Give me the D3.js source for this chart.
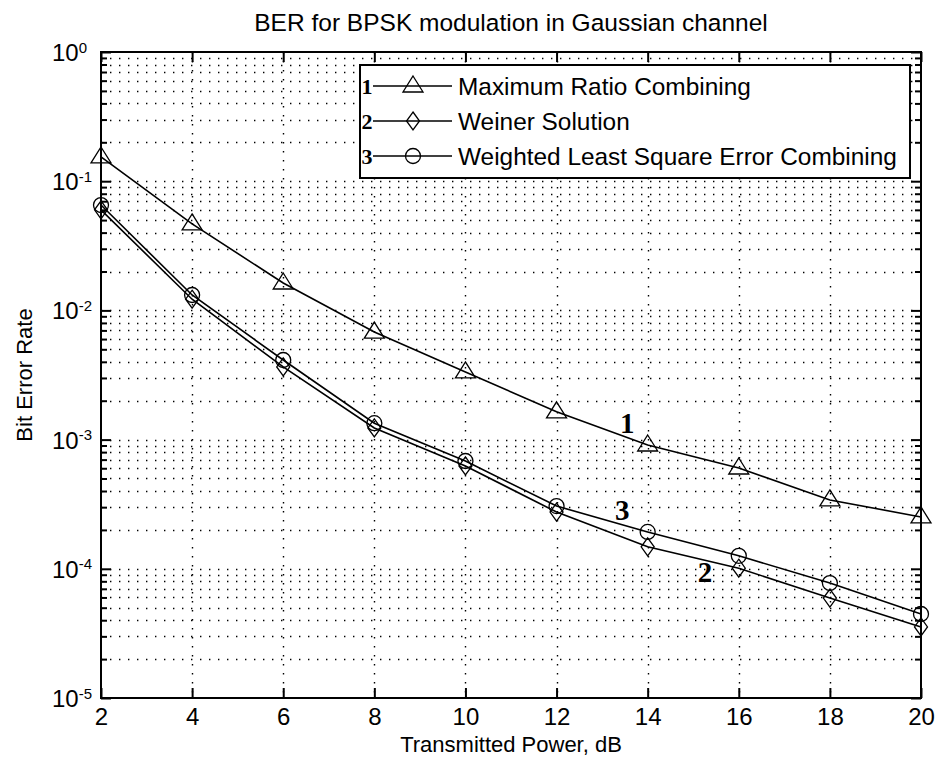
<!DOCTYPE html>
<html>
<head>
<meta charset="utf-8">
<script src="https://cdn.jsdelivr.net/npm/d3@7"></script>
<style>
  body { margin: 0; background: #fff; }
  text { font-family: "Liberation Sans", Arial, sans-serif; fill: #000; }
  .num { font-family: "Liberation Serif", "Times New Roman", serif; font-weight: bold; }
</style>
</head>
<body>
<svg id="chart" width="936" height="767"></svg>
<script>
// Data
var powerDb = [2, 4, 6, 8, 10, 12, 14, 16, 18, 20];
var berMRC = [0.154, 0.0467, 0.0163, 0.0068, 0.00334, 0.00164, 0.000908, 0.000603, 0.000341, 0.000252];
var berWiener = [0.060, 0.0122, 0.00365, 0.00123, 0.000625, 0.000275, 0.000148, 0.000101, 0.0000594, 0.0000355];
var berWLSE = [0.0654, 0.01316, 0.00413, 0.00134, 0.000683, 0.000306, 0.000193, 0.000126, 0.0000776, 0.0000447];
var xTicks = [2, 4, 6, 8, 10, 12, 14, 16, 18, 20];
var yDecades = [1e-5, 1e-4, 1e-3, 1e-2, 1e-1, 1];
var yExponents = ['-5', '-4', '-3', '-2', '-1', '0'];
var seriesNames = ['Maximum Ratio Combining', 'Weiner Solution', 'Weighted Least Square Error Combining'];
var seriesTags = ['1', '2', '3'];
// curve tags placed in data units: [tag, power, ber]
var curveTags = [['1', 13.55, 1.345e-3], ['3', 13.44, 2.85e-4], ['2', 15.26, 9.45e-5]];

var pLeft = 101, pRight = 921, pTop = 52, pBottom = 698;

var svg = d3.select('#chart');

var x = d3.scaleLinear().domain([2, 20]).range([pLeft, pRight]);
var y = d3.scaleLog().domain([1e-5, 1]).range([pBottom, pTop]);

// minor values 2..9 inside each decade
var minorVals = [];
yDecades.slice(0, -1).forEach(function(d) {
  for (var k = 2; k <= 9; k++) minorVals.push(k * d);
});

// Grid (dotted)
var grid = svg.append('g')
  .attr('stroke', '#000')
  .attr('stroke-width', 1.4)
  .attr('stroke-dasharray', '1.4,7.6');

grid.selectAll('.hgrid')
  .data(minorVals.concat(yDecades.slice(1, -1)))
  .enter().append('line')
  .attr('x1', pLeft).attr('x2', pRight)
  .attr('y1', function(d) { return Math.round(y(d)) + 0.5; })
  .attr('y2', function(d) { return Math.round(y(d)) + 0.5; });

grid.selectAll('.vgrid')
  .data(xTicks.slice(1, -1))
  .enter().append('line')
  .attr('y1', pTop).attr('y2', pBottom)
  .attr('x1', function(d) { return Math.round(x(d)) + 0.5; })
  .attr('x2', function(d) { return Math.round(x(d)) + 0.5; });

// Axes with inward ticks
var xBottom = d3.axisBottom(x).tickValues(xTicks).tickSizeInner(-10).tickSizeOuter(0).tickPadding(10);
var xTop = d3.axisTop(x).tickValues(xTicks).tickSizeInner(-10).tickSizeOuter(0).tickFormat('');
var yLeft = d3.axisLeft(y).tickValues(yDecades).tickSizeInner(-10).tickSizeOuter(0).tickFormat(function() { return ''; });
var yRight = d3.axisRight(y).tickValues(yDecades).tickSizeInner(-10).tickSizeOuter(0).tickFormat('');
var yLeftMinor = d3.axisLeft(y).tickValues(minorVals).tickSizeInner(-6).tickSizeOuter(0).tickFormat('');
var yRightMinor = d3.axisRight(y).tickValues(minorVals).tickSizeInner(-6).tickSizeOuter(0).tickFormat('');

function styleAxis(g) {
  g.select('.domain').remove();
  g.selectAll('.tick line').attr('stroke', '#000').attr('stroke-width', 2);
  g.selectAll('text').style('font-size', '24px').attr('fill', '#000');
}

svg.append('g').attr('transform', 'translate(0,' + pBottom + ')').call(xBottom).call(styleAxis);
svg.append('g').attr('transform', 'translate(0,' + pTop + ')').call(xTop).call(styleAxis);
var yl = svg.append('g').attr('transform', 'translate(' + pLeft + ',0)').call(yLeft).call(styleAxis);
svg.append('g').attr('transform', 'translate(' + pRight + ',0)').call(yRight).call(styleAxis);
svg.append('g').attr('transform', 'translate(' + pLeft + ',0)').call(yLeftMinor).call(styleAxis);
svg.append('g').attr('transform', 'translate(' + pRight + ',0)').call(yRightMinor).call(styleAxis);

// 10^n labels
yl.selectAll('.tick text').each(function(d, i) {
  var t = d3.select(this).attr('x', -49).attr('dy', '0.35em').attr('text-anchor', 'start');
  t.append('tspan').text('10');
  t.append('tspan').attr('dy', '-0.55em').style('font-size', '15px').text(yExponents[i]);
});

// Plot box
svg.append('rect')
  .attr('x', pLeft).attr('y', pTop)
  .attr('width', pRight - pLeft).attr('height', pBottom - pTop)
  .attr('fill', 'none').attr('stroke', '#000').attr('stroke-width', 2);

// Markers
function drawMarker(g, kind) {
  if (kind === 0) {
    g.append('path').attr('d', 'M0,-10L10,6L-10,6Z');
  } else if (kind === 1) {
    g.append('path').attr('d', 'M0,-9L6.5,0L0,9L-6.5,0Z');
  } else {
    g.append('circle').attr('r', 7.5);
  }
}

var series = [berMRC, berWiener, berWLSE];
var line = d3.line()
  .x(function(d, i) { return x(powerDb[i]); })
  .y(function(d) { return y(d); });

series.forEach(function(vals, s) {
  svg.append('path')
    .datum(vals)
    .attr('d', line)
    .attr('fill', 'none')
    .attr('stroke', '#000')
    .attr('stroke-width', 1.6);

  svg.selectAll('.m' + s)
    .data(vals)
    .enter().append('g')
    .attr('transform', function(d, i) { return 'translate(' + x(powerDb[i]) + ',' + y(d) + ')'; })
    .attr('fill', 'none')
    .attr('stroke', '#000')
    .attr('stroke-width', 1.3)
    .each(function() { drawMarker(d3.select(this), s); });
});

// Curve tags
svg.selectAll('.ctag')
  .data(curveTags)
  .enter().append('text')
  .attr('class', 'num')
  .attr('x', function(d) { return x(d[1]); })
  .attr('y', function(d) { return y(d[2]); })
  .attr('text-anchor', 'middle')
  .attr('dominant-baseline', 'central')
  .style('font-size', '29px')
  .text(function(d) { return d[0]; });

// Legend
var legend = svg.append('g').attr('transform', 'translate(360,65)');
legend.append('rect')
  .attr('width', 550).attr('height', 113)
  .attr('fill', '#fff').attr('stroke', '#000').attr('stroke-width', 2);

var rows = legend.selectAll('.row')
  .data(seriesNames)
  .enter().append('g')
  .attr('transform', function(d, i) { return 'translate(0,' + (21 + i * 35) + ')'; });

rows.append('line')
  .attr('x1', 13).attr('x2', 92)
  .attr('stroke', '#000').attr('stroke-width', 1.6);

rows.append('g')
  .attr('transform', 'translate(53,0)')
  .attr('fill', 'none').attr('stroke', '#000').attr('stroke-width', 1.3)
  .each(function(d, i) { drawMarker(d3.select(this), i); });

rows.append('text')
  .attr('class', 'num')
  .attr('x', 7).attr('dy', '0.35em')
  .attr('text-anchor', 'middle')
  .style('font-size', '22px')
  .text(function(d, i) { return seriesTags[i]; });

rows.append('text')
  .attr('x', 98).attr('dy', '0.36em')
  .style('font-size', '24.4px')
  .text(function(d) { return d; });

// Title and axis labels
svg.append('text')
  .attr('x', (pLeft + pRight) / 2).attr('y', 31)
  .attr('text-anchor', 'middle')
  .style('font-size', '24.5px')
  .text('BER for BPSK modulation in Gaussian channel');

svg.append('text')
  .attr('x', (pLeft + pRight) / 2).attr('y', 752)
  .attr('text-anchor', 'middle')
  .style('font-size', '22px')
  .text('Transmitted Power, dB');

svg.append('text')
  .attr('transform', 'translate(32,' + ((pTop + pBottom) / 2) + ') rotate(-90)')
  .attr('text-anchor', 'middle')
  .style('font-size', '22px')
  .text('Bit Error Rate');
</script>
</body>
</html>
